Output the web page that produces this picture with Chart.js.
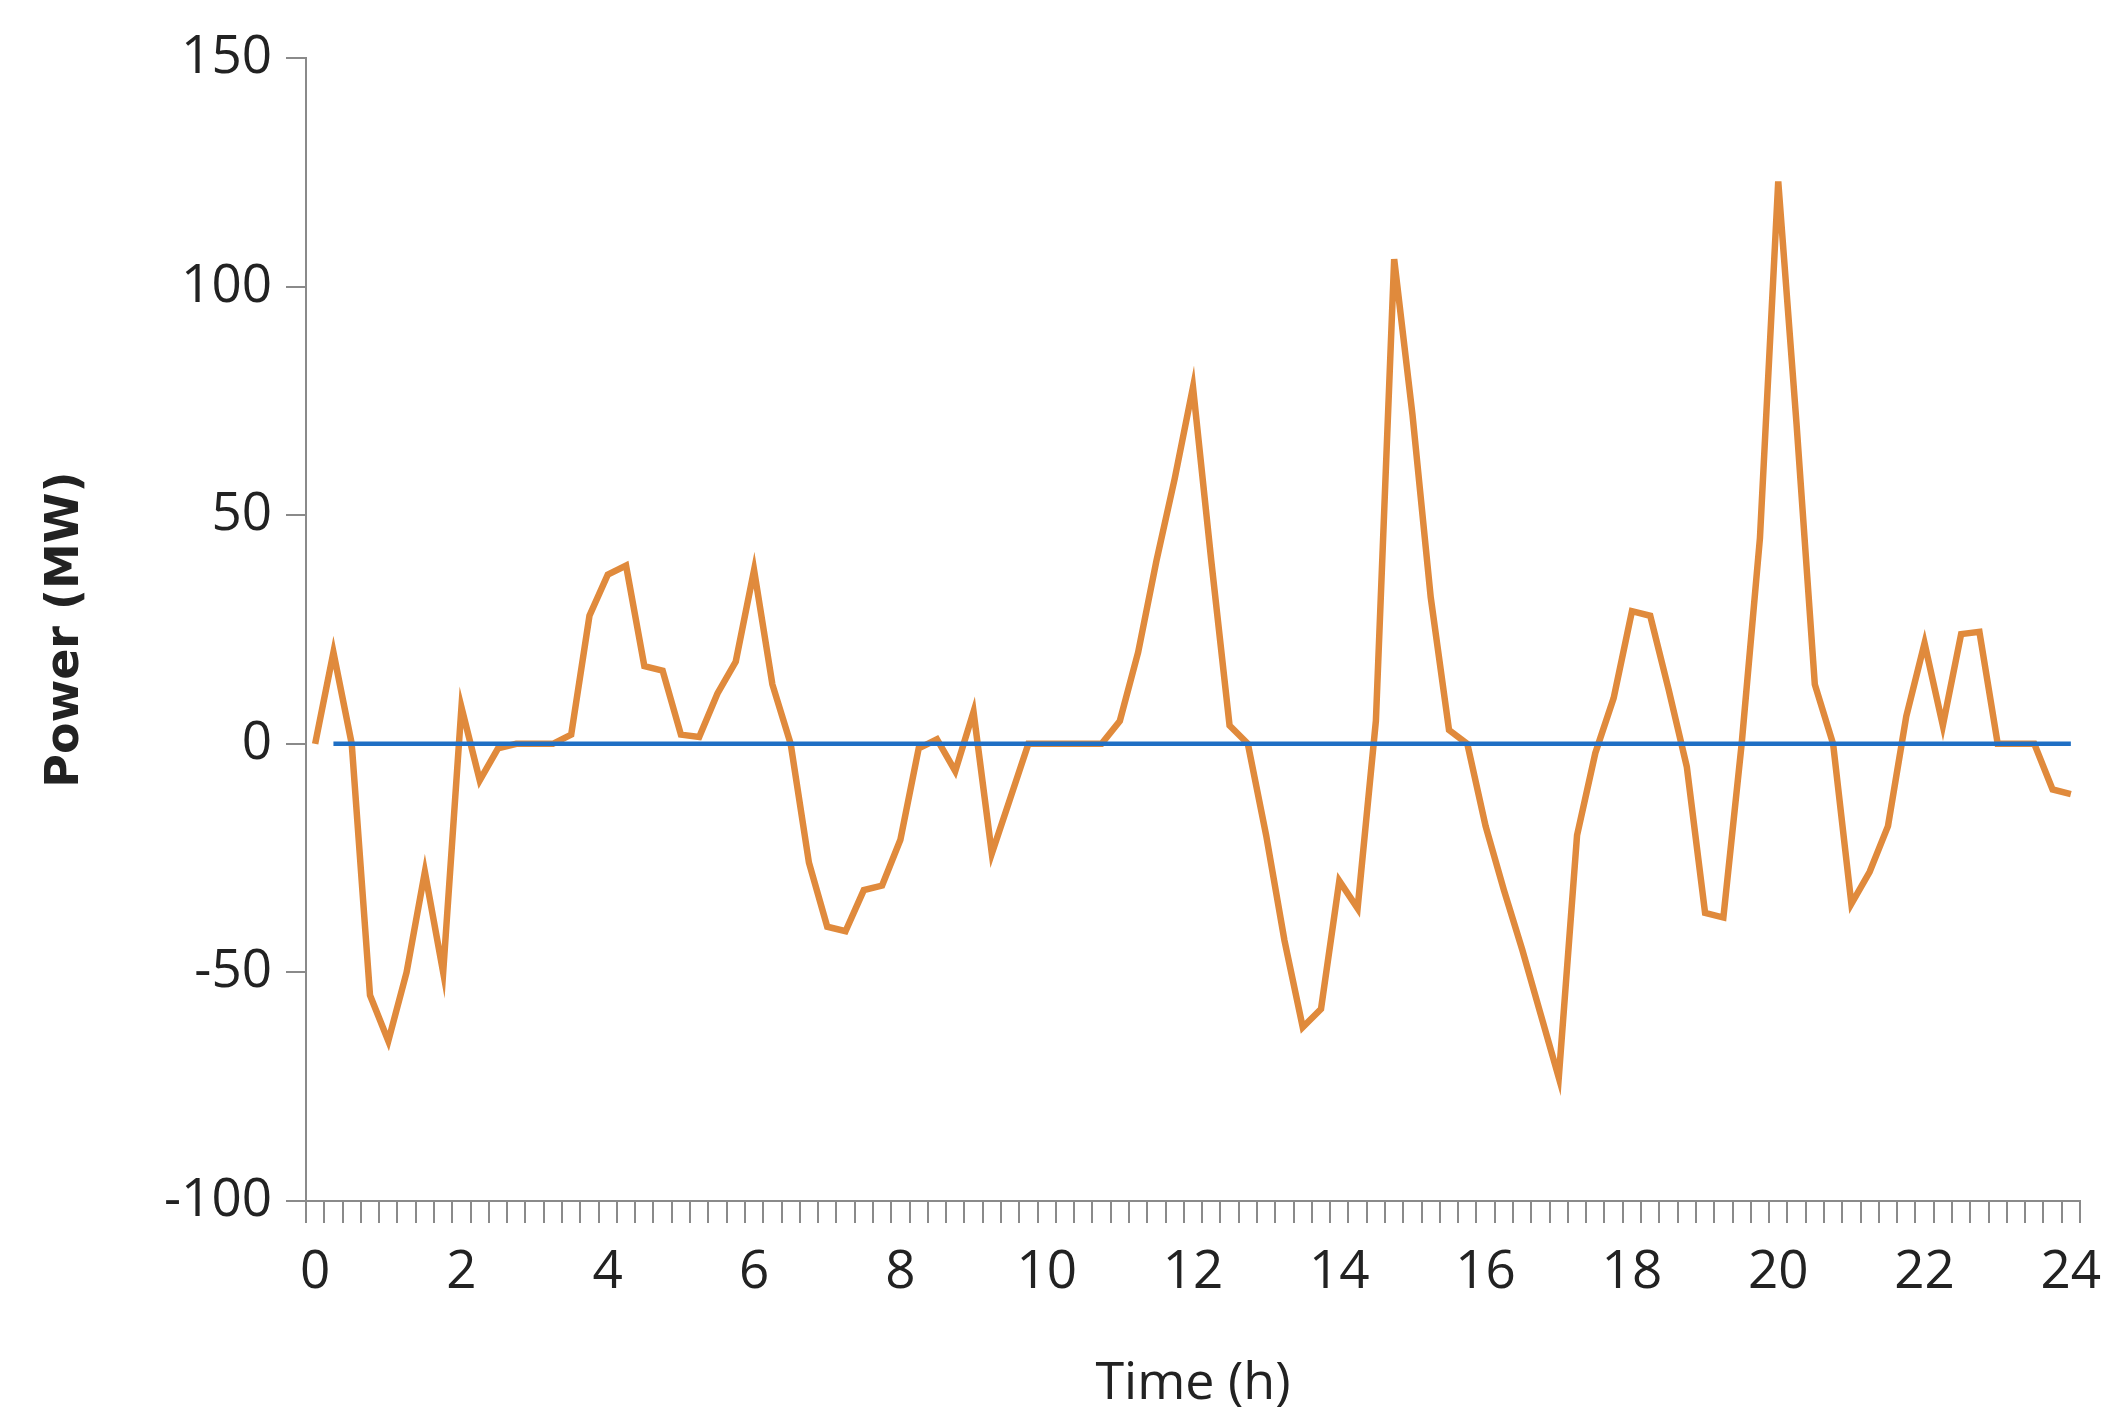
<!DOCTYPE html>
<html><head><meta charset="utf-8">
<script src="https://cdn.jsdelivr.net/npm/chart.js@4"></script>
<style>html,body{margin:0;padding:0;background:#fff}#w{width:2123px;height:1419px}</style>
</head><body><div id="w"><canvas id="c"></canvas></div>
<script>
const hours = Array.from({length:97},(_,i)=>i*0.25);
const powerValues = [0,20,0,-55,-65,-50,-28,-50,8,-8,-1,0,0,0,2,28,37,39,17,16,2,1.5,11,18,38,13,0,-26,-40,-41,-32,-31,-21,-1,1,-6,7,-24,-12,0,0,0,0,0,5,20,40,58,78,40,4,0,-20,-43,-62,-58,-30,-36,5,106,72,32,3,0,-18,-32,-45,-59,-73,-20,-2,10,29,28,12,-5,-37,-38,0,45,123,70,13,0,-35,-28,-18,6,22,4,24,24.5,0,0,0,-10,-11];
const baseValues = hours.map((h,i)=> i===0 ? null : 0);
const yTicks = [-100,-50,0,50,100,150];
const axisColor = '#8a8a8a';
new Chart(document.getElementById('c'),{
  type:'line',
  data:{labels:hours,datasets:[
    {data:baseValues,borderColor:'#1f6fc4',borderWidth:4.5,pointRadius:0,tension:0},
    {data:powerValues,borderColor:'#e08a3c',borderWidth:6.5,pointRadius:0,tension:0}
  ]},
  options:{responsive:true,maintainAspectRatio:false,animation:false,
    layout:{padding:{top:58,right:43,left:34,bottom:0}},
    plugins:{legend:{display:false},tooltip:{enabled:false}},
    scales:{
      x:{type:'category',offset:true,
        grid:{offset:true,drawOnChartArea:false,color:axisColor,tickLength:22,lineWidth:2},
        border:{color:axisColor,width:2},
        ticks:{autoSkip:false,maxRotation:0,color:'#222',font:{family:'Open Sans',size:53},padding:18,
          callback:(v,i)=> i%8===0 ? String(hours[i]) : ''},
        title:{display:true,text:'Time (h)',color:'#222',font:{family:'Open Sans',size:52},padding:{top:4}},
        afterFit:s=>{s.height=218;}
      },
      y:{min:-100,max:150,
        afterBuildTicks:s=>{s.ticks=yTicks.map(v=>({value:v}));},
        grid:{drawOnChartArea:false,color:axisColor,tickLength:20,lineWidth:2},
        border:{color:axisColor,width:2},
        ticks:{color:'#222',font:{family:'Open Sans',size:53},padding:14},
        title:{display:true,text:'Power (MW)',color:'#222',font:{family:'DejaVu Sans',size:46,weight:'bold'},padding:{bottom:20}},
        afterFit:s=>{s.width=272;}
      }
    }
  }
});
</script></body></html>
